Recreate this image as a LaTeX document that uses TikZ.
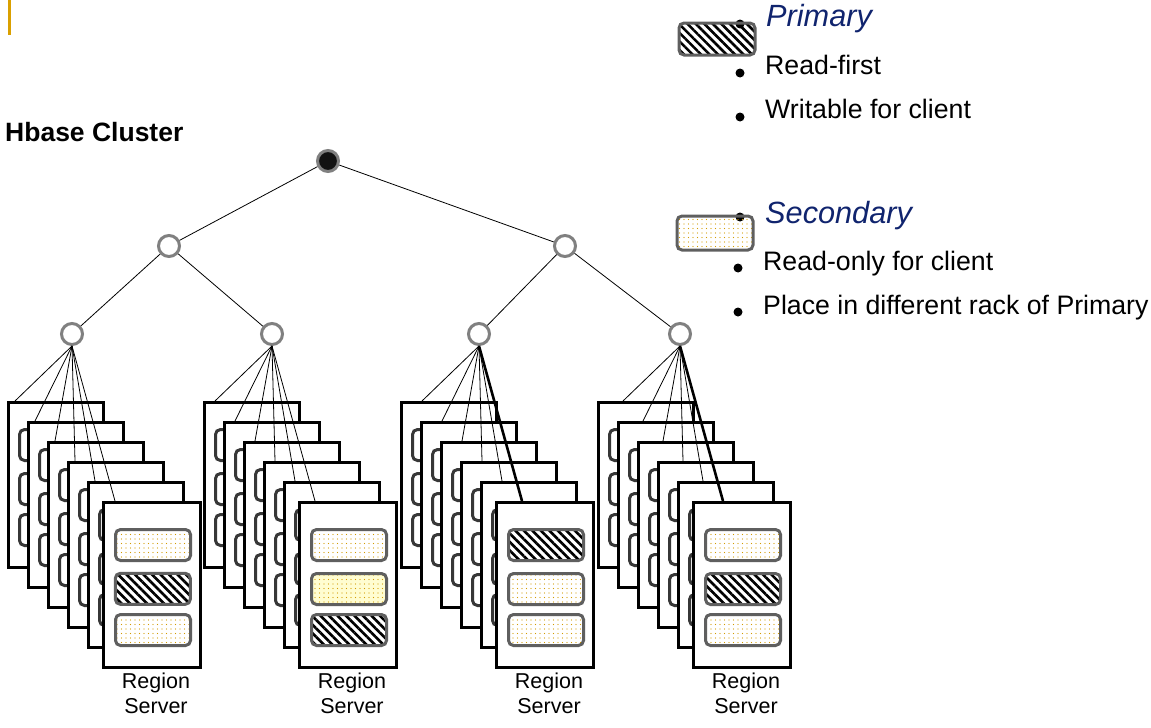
\documentclass[tikz,border=0pt]{standalone}
\usepackage{fontspec}
\setmainfont{Liberation Sans}
\usetikzlibrary{patterns.meta}
\definecolor{ringgray}{RGB}{128,128,128}
\definecolor{slotgray}{RGB}{55,55,55}
\definecolor{frontgray}{RGB}{95,95,95}
\definecolor{dotyellow}{RGB}{210,155,0}
\definecolor{headblue}{RGB}{16,36,110}
\definecolor{bargold}{RGB}{218,160,0}

\begin{document}
\begin{tikzpicture}[x=1pt, y=-1pt,
  vertex/.style={circle, draw=ringgray, line width=3pt, fill=white, minimum size=21pt, inner sep=0pt},
  edge/.style={line width=0.8pt},
  mainfan/.style={line width=2.6pt},
  card/.style={draw, line width=3.4pt, fill=white, anchor=north west, minimum width=95pt, minimum height=165pt, inner sep=0pt},
  slot/.style={draw=slotgray, line width=3pt, rounded corners=5pt, fill=white, anchor=north west, minimum width=75pt, minimum height=31pt, inner sep=0pt},
  pri/.style={draw=frontgray, pattern={Lines[angle=-45, distance=6pt, line width=2.6pt]}},
  sec/.style={draw=frontgray, pattern={Dots[distance=4.5pt, radius=0.7pt]}, pattern color=dotyellow},
  secy/.style={sec, preaction={fill=yellow!18}},
  keybox/.style={draw=black!80, line width=3pt, rounded corners=5pt, minimum width=76pt, minimum height=32pt, inner sep=0pt},
  dot/.style={circle, fill=black, minimum size=9pt, inner sep=0pt},
  body/.style={anchor=base west, inner sep=0pt, font=\fontsize{26.7}{30}\selectfont},
  head/.style={anchor=base west, inner sep=0pt, text=headblue, font=\fontsize{30.7}{36}\selectfont\itshape},
  rs/.style={anchor=north, inner sep=0pt, align=center, font=\fontsize{21.5}{25}\selectfont}]
  \useasboundingbox (0,0) rectangle (1151,728);
  \fill[bargold] (8,0) rectangle (11,35);
  \node[anchor=base west, inner sep=0pt, font=\fontsize{26.5}{30}\selectfont\bfseries] (title) at (5,141) {Hbase Cluster};

  \node[vertex, fill=black!93] (root) at (328,161) {};
  \node[vertex] (l) at (169,246) {};
  \node[vertex] (r) at (565,246) {};
  \node[vertex] (ll) at (72,334) {};
  \node[vertex] (lr) at (272,334) {};
  \node[vertex] (rl) at (479,334) {};
  \node[vertex] (rr) at (680,334) {};
  \draw[edge] (ll) -- (l) -- (root) -- (r) -- (rl)
  (lr) -- (l) (r) -- (rr);

  \foreach \n/\L/\X in {ll/7/72, lr/203/272, rl/400/479, rr/597/680} {
    \foreach \k in {0,...,4} {
      \node[card] (\n-c\k) at (\L+20*\k, 401+20*\k) {};
      \foreach \t in {27,71,112}
        \node[slot] at (\L+20*\k+11, 401+20*\k+\t) {};
    }
    \node[card, minimum width=97pt] (\n-c5) at (\L+95, 501) {};
    \foreach \k in {0,...,5} {
      \coordinate (\n-t\k) at (\X-57+20*\k, 401+20*\k);
      \draw[edge] (\n.south) -- (\n-t\k);
    }
  }
  \draw[mainfan] (rl.south) -- (rl-t5);
  \draw[mainfan] (rr.south) -- (rr-t5);

  \foreach \n/\L/\a/\b/\c in {ll/7/sec/pri/sec, lr/203/sec/secy/pri, rl/400/pri/sec/sec, rr/597/sec/pri/sec} {
    \node[slot, \a] (\n-s1) at (\L+107, 528) {};
    \node[slot, \b] (\n-s2) at (\L+107, 572) {};
    \node[slot, \c] (\n-s3) at (\L+107, 613) {};
    \node[rs] (\n-rs) at (\L+149, 673) {Region\\Server};
  }

  \node[dot] (pb0) at (740,24) {};
  \node[keybox, pri] (pkey) at (717,39) {};
  \node[head] (ptext) at (766,27) {Primary};
  \node[dot] (pb1) at (740,73) {};
  \node[body] (p1) at (765,74) {Read-first};
  \node[dot] (pb2) at (740,117) {};
  \node[body] (p2) at (765,118) {Writable for client};

  \node[dot] (sb0) at (740,217) {};
  \node[keybox, sec, minimum height=34pt] (skey) at (715,233) {};
  \node[head] (stext) at (765,223) {Secondary};
  \node[dot] (sb1) at (738,268) {};
  \node[body] (s1) at (763,270) {Read-only for client};
  \node[dot] (sb2) at (738,312) {};
  \node[body] (s2) at (763,314) {Place in different rack of Primary};
\end{tikzpicture}
\end{document}
